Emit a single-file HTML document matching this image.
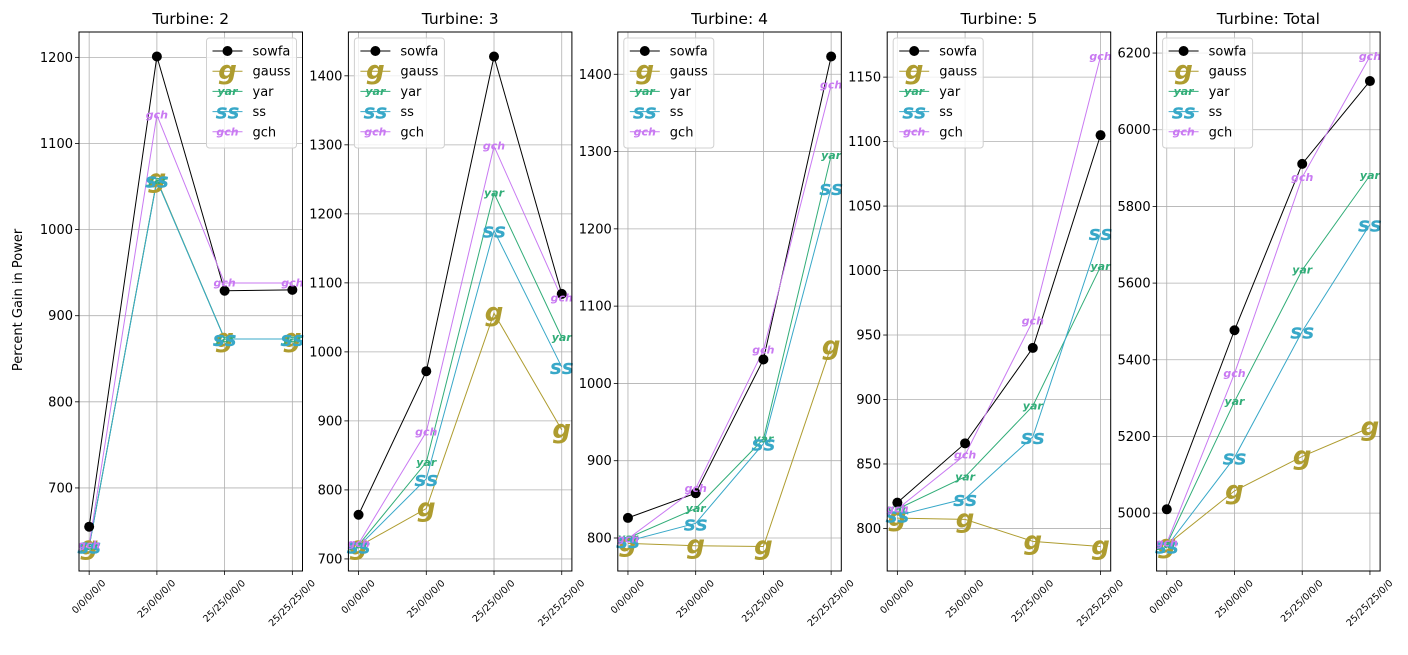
<!DOCTYPE html>
<html><head><meta charset="utf-8">
<style>
html,body{margin:0;padding:0;background:#fff;}
svg text{font-family:"DejaVu Sans","Liberation Sans",sans-serif;}
</style></head>
<body>
<svg id="fig" width="1408" height="650" viewBox="0 0 1408 650" xmlns="http://www.w3.org/2000/svg">
<rect x="0" y="0" width="1408" height="650" fill="#fff"/>
<text x="22" y="300" font-size="13" text-anchor="middle" transform="rotate(-90 22 300)">Percent Gain in Power</text>
</svg>
<script>
const categories = ["0/0/0/0/0","25/0/0/0/0","25/25/0/0/0","25/25/25/0/0"];
const panelTitles = ["Turbine: 2","Turbine: 3","Turbine: 4","Turbine: 5","Turbine: Total"];
const seriesNames = ["sowfa","gauss","yar","ss","gch"];
const sowfa = [[655,1201,929,930],[764,972,1428,1084],[826,858,1031,1423],[820,866,940,1105],[5010,5477,5911,6127]];
const gauss = [[632,1058,873,873],[718,773,1056,887],[793,790,789,1048],[808,807,790,786],[4917,5058,5148,5223]];
const yar = [[632,1057,873,873],[720,840,1230,1021],[800,838,928,1295],[815,840,895,1003],[4918,5291,5634,5881]];
const ss = [[632,1057,873,873],[718,816,1176,978],[796,819,922,1253],[810,823,871,1029],[4913,5145,5474,5753]];
const gch = [[634,1133,938,938],[722,884,1298,1078],[799,864,1043,1386],[815,857,961,1166],[4922,5364,5876,6191]];
const yTicks = [[700,800,900,1000,1100,1200],[700,800,900,1000,1100,1200,1300,1400],[800,900,1000,1100,1200,1300,1400],[800,850,900,950,1000,1050,1100,1150],[5000,5200,5400,5600,5800,6000,6200]];

const NS="http://www.w3.org/2000/svg";
const svg=document.getElementById('fig');
function mk(tag,attrs,parent){const e=document.createElementNS(NS,tag);for(const k in attrs)e.setAttribute(k,attrs[k]);(parent||svg).appendChild(e);return e;}
const colors={sowfa:"#000000",gauss:"#ae9c2f",yar:"#31ad78",ss:"#38a8c8",gch:"#c97af2"};
const markTxt={gauss:"g",yar:"yar",ss:"ss",gch:"gch"};
const markSize={gauss:26,yar:11,ss:20,gch:11};
const AX_T=32,AX_B=571,AX_W=223.5;
const allData={sowfa,gauss,yar,ss,gch};

function drawMarker(g,name,cx,cy){
  if(name==="sowfa"){const c=mk('circle',{cx:cx,cy:cy,r:5,fill:'#000'},g);
    
    
    return;}
  const t=mk('text',{x:cx,y:cy,'font-size':markSize[name],'font-style':'italic','font-weight':'bold',fill:colors[name],'text-anchor':'middle','dominant-baseline':'central'},g);
  t.textContent=markTxt[name];
  
  
}

for(let p=0;p<5;p++){
  const L=79+p*269.4, R=L+AX_W;
  const g=mk('g',{});
  
  
  let mn=Infinity,mx=-Infinity;
  seriesNames.forEach(n=>allData[n][p].forEach(v=>{mn=Math.min(mn,v);mx=Math.max(mx,v);}));
  const pad=(mx-mn)*0.05, y0=mn-pad, y1=mx+pad;
  const ys=v=>AX_B-(v-y0)/(y1-y0)*(AX_B-AX_T);
  const xs=i=>L+(i+0.15)/3.3*AX_W;
  categories.forEach((c,i)=>{const x=xs(i);
    const gl=mk('line',{x1:x,x2:x,y1:AX_T,y2:AX_B,stroke:'#b0b0b0','stroke-width':0.8},g);
    
    
    mk('line',{x1:x,x2:x,y1:AX_B,y2:AX_B+4,stroke:'#000','stroke-width':0.8},g);
    const t=mk('text',{x:x,y:0,'font-size':9.5,'text-anchor':'middle','dominant-baseline':'central'},g);
    t.textContent=c;
    
    
    const w=t.getComputedTextLength();
    const cy=AX_B+7+(w*0.7071+11*0.7071)/2;
    t.setAttribute('y',cy);
    t.setAttribute('transform',`rotate(-45 ${x} ${cy})`);
  });
  yTicks[p].forEach(v=>{const y=ys(v);
    const gl=mk('line',{x1:L,x2:R,y1:y,y2:y,stroke:'#b0b0b0','stroke-width':0.8},g);
    
    
    mk('line',{x1:L-4,x2:L,y1:y,y2:y,stroke:'#000','stroke-width':0.8},g);
    const t=mk('text',{x:L-6,y:y+4.5,'font-size':13,'text-anchor':'end'},g);
    t.textContent=v;
    
    
  });
  ["sowfa","gauss","yar","ss","gch"].forEach(n=>{
    const d=allData[n][p];
    const pl=mk('polyline',{points:d.map((v,i)=>xs(i)+','+ys(v)).join(' '),fill:'none',stroke:colors[n],'stroke-width':1},g);
    
    
  });
  ["sowfa","gauss","yar","ss","gch"].forEach(n=>{
    allData[n][p].forEach((v,i)=>drawMarker(g,n,xs(i),ys(v)));
  });
  const fr=mk('rect',{x:L,y:AX_T,width:AX_W,height:AX_B-AX_T,fill:'none',stroke:'#000','stroke-width':1},g);
  
  
  const tt=mk('text',{x:L+AX_W/2,y:24,'font-size':15.5,'text-anchor':'middle'},g);
  tt.textContent=panelTitles[p];
  
  
  const lx = p===0 ? R-96 : L+6, ly=38;
  const lg=mk('g',{},g);
  
  
  mk('rect',{x:lx,y:ly,width:90,height:110,rx:3,fill:'#fff','fill-opacity':0.8,stroke:'#d0d0d0','stroke-width':1},lg);
  seriesNames.forEach((n,k)=>{
    const yy=ly+13+k*20.2;
    const e=mk('g',{},lg);
    
    
    mk('line',{x1:lx+6,x2:lx+36,y1:yy,y2:yy,stroke:colors[n],'stroke-width':1},e);
    drawMarker(e,n,lx+21,yy);
    const t=mk('text',{x:lx+46,y:yy+4.5,'font-size':13},e);
    t.textContent=n;
  });
}
</script>
</body></html>
